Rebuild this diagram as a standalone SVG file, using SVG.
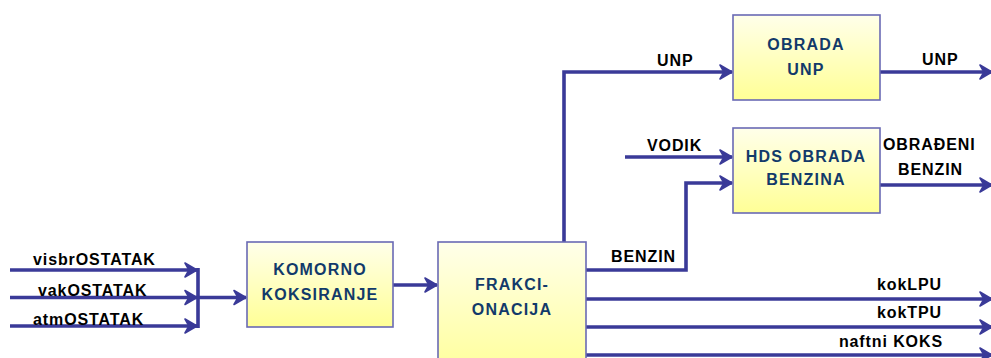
<svg xmlns="http://www.w3.org/2000/svg" width="991" height="358" viewBox="0 0 991 358">
<defs>
<linearGradient id="boxfill" x1="0" y1="0" x2="0" y2="1">
<stop offset="0" stop-color="#ffffea"/>
<stop offset="1" stop-color="#ffff96"/>
</linearGradient>
<linearGradient id="boxfillTall" gradientUnits="userSpaceOnUse" x1="0" y1="242" x2="0" y2="380">
<stop offset="0" stop-color="#ffffea"/>
<stop offset="1" stop-color="#ffff96"/>
</linearGradient>
<marker id="arr" viewBox="-14 -9 16 18" refX="0" refY="0" markerWidth="16" markerHeight="18" markerUnits="userSpaceOnUse" orient="auto" overflow="visible">
<path d="M0,0 L-12,-7 L-8,0 L-12,7 z" fill="#3a3a98" stroke="#3a3a98" stroke-width="1.6" stroke-linejoin="round"/>
</marker>
<style>
.box{stroke:#6a6ab4;stroke-width:1.6;fill:url(#boxfill)}
.bt{font-family:"Liberation Sans",Arial,sans-serif;font-weight:bold;font-size:16px;fill:#123a6a;text-anchor:middle;letter-spacing:1.2px}
.lb{font-family:"Liberation Sans",Arial,sans-serif;font-weight:bold;font-size:16px;fill:#000;letter-spacing:0.9px}
.ln{fill:none;stroke:#3a3a98;stroke-width:3.6;stroke-linejoin:miter}
.ar{marker-end:url(#arr)}
</style>
</defs>
<rect width="991" height="358" fill="#ffffff"/>

<g id="connectors">
<path class="ln ar" d="M10,270 H197"/>
<path class="ln ar" d="M10,297.5 H197"/>
<path class="ln ar" d="M10,326 H197"/>
<path class="ln" d="M198,268 V328"/>
<path class="ln ar" d="M198,297.5 H246"/>
<path class="ln ar" d="M393,285 H437"/>
<path class="ln ar" d="M564,242 V72 H732"/>
<path class="ln ar" d="M586,270 H686 V183 H732"/>
<path class="ln ar" d="M625,157 H732"/>
<path class="ln ar" d="M880,72 H992"/>
<path class="ln ar" d="M880,185 H992"/>
<path class="ln ar" d="M586,299 H992"/>
<path class="ln ar" d="M586,327 H992"/>
<path class="ln ar" d="M586,355 H992"/>
</g>

<g id="labels">
<text class="lb" x="33" y="265">visbrOSTATAK</text>
<text class="lb" x="38" y="296">vakOSTATAK</text>
<text class="lb" x="33" y="325">atmOSTATAK</text>
<text class="lb" x="657" y="66">UNP</text>
<text class="lb" x="647" y="151">VODIK</text>
<text class="lb" x="611" y="262">BENZIN</text>
<text class="lb" x="922" y="65">UNP</text>
<text class="lb" x="883" y="150">OBRAĐENI</text>
<text class="lb" x="898" y="175">BENZIN</text>
<text class="lb" x="942" y="290" text-anchor="end">kokLPU</text>
<text class="lb" x="942" y="318" text-anchor="end">kokTPU</text>
<text class="lb" x="943" y="347" text-anchor="end">naftni KOKS</text>
</g>

<g id="node-komorno">
<rect class="box" x="247" y="242" width="146" height="85"/>
<text class="bt" x="320" y="275">KOMORNO</text>
<text class="bt" x="320" y="300">KOKSIRANJE</text>
</g>

<g id="node-frakcionacija">
<rect class="box" x="438" y="242" width="148" height="140" style="fill:url(#boxfillTall)"/>
<text class="bt" x="512" y="290">FRAKCI-</text>
<text class="bt" x="512" y="315">ONACIJA</text>
</g>

<g id="node-obrada-unp">
<rect class="box" x="733" y="15" width="147" height="85"/>
<text class="bt" x="806" y="50">OBRADA</text>
<text class="bt" x="806" y="75">UNP</text>
</g>

<g id="node-hds">
<rect class="box" x="733" y="128" width="147" height="85"/>
<text class="bt" x="806" y="162">HDS OBRADA</text>
<text class="bt" x="806" y="185">BENZINA</text>
</g>
</svg>
